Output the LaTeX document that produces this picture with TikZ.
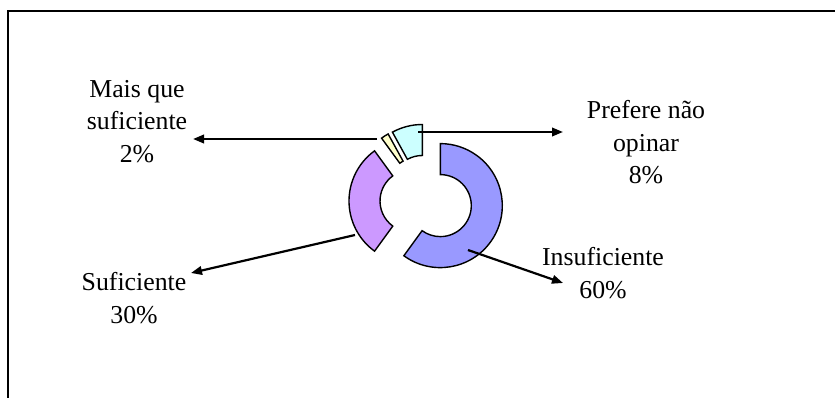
\documentclass[tikz,border=0pt]{standalone}
\usepackage{fontspec}
\setmainfont{Liberation Serif}
\usetikzlibrary{arrows.meta,calc}
\definecolor{cblue}{HTML}{9999FF}
\definecolor{cpurple}{HTML}{CC99FF}
\definecolor{cyellow}{HTML}{FFFFCC}
\definecolor{ccyan}{HTML}{CCFFFF}
\tikzset{
  slice/.style={draw=black,line width=1.4pt,line join=miter},
  leader/.style={line width=2.2pt,-{Triangle[length=11pt,width=8.5pt]}},
  lbl/.style={align=center,anchor=base,inner sep=0pt,font=\fontsize{25.8}{32.5}\selectfont},
  frame/.style={line width=2pt}
}
\newcommand{\ringslice}[4]{% center, start, end, fill
  \draw[slice,fill=#4] ([shift={(#2:62)}]#1) arc[start angle=#2,end angle=#3,radius=62]
    -- ([shift={(#3:31)}]#1) arc[start angle=#3,end angle=#2,radius=31] -- cycle;
}
\begin{document}
\begin{tikzpicture}[x=1pt,y=1pt]
\useasboundingbox (0,0) rectangle (835,397);
\coordinate (fr) at (836,385.5);
\coordinate (ft) at (8,385.5);
\coordinate (fb) at (8,-1);
\draw[frame] (fr) -- (ft) -- (fb);
% slice centres
\coordinate (cb) at (440.3,191.4);
\coordinate (cp) at (411,196);
\coordinate (cy) at (418.0,208.7);
\coordinate (cc) at (422.3,210.5);
\ringslice{cb}{-126}{90}{cblue}
\ringslice{cp}{126}{234}{cpurple}
\ringslice{cy}{118.8}{126}{cyellow}
\ringslice{cc}{90}{118.8}{ccyan}
% labels (anchor = baseline of last line)
\node[lbl] (lmais) at (137,234.5) {Mais que\\suficiente\\2\%};
\node[lbl] (lpref) at (646,213.5) {Prefere não\\opinar\\8\%};
\node[lbl] (lsuf) at (134,74) {Suficiente\\30\%};
\node[lbl] (lins) at (603,99) {Insuficiente\\60\%};
% leader ends
\coordinate (sy) at (377,258);
\coordinate (ty) at (193,258);
\coordinate (sc) at (418,265);
\coordinate (tc) at (563,265);
\coordinate (sp) at (355,162);
\coordinate (tp) at (191,124);
\coordinate (sb) at (468,147);
\coordinate (tb) at (563,114);
\draw[leader] (sy) -- (ty);
\draw[leader] (sc) -- (tc);
\draw[leader] (sp) -- (tp);
\draw[leader] (sb) -- (tb);
\end{tikzpicture}
\end{document}
